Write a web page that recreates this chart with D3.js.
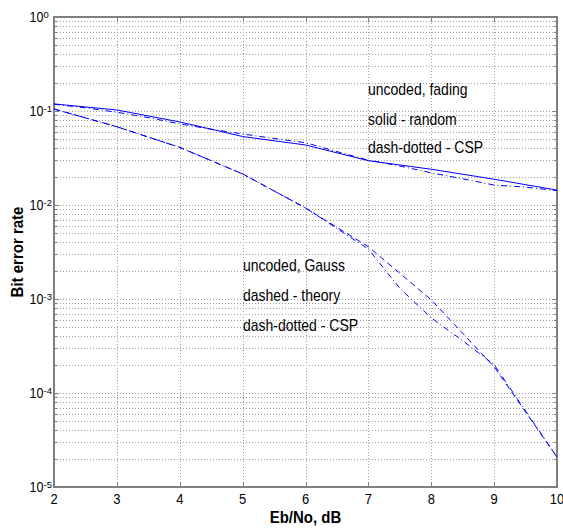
<!doctype html>
<html>
<head>
<meta charset="utf-8">
<script src="https://d3js.org/d3.v7.min.js"></script>
<style>
  body { margin: 0; background: #fff; }
  text { font-family: "Liberation Sans", Arial, sans-serif; fill: #000; }
</style>
</head>
<body>
<div id="chart"></div>
<script>
// x values (Eb/No, dB)
var ebno = [2, 3, 4, 5, 6, 7, 8, 9, 10];
var ebnoHalf = [2, 2.5, 3, 3.5, 4, 4.5, 5, 5.5, 6, 6.5, 7, 7.5, 8, 8.5, 9, 9.5, 10];

// uncoded, fading
var fadingRandom = [0.119, 0.1025, 0.0765, 0.0535, 0.0435, 0.0296, 0.024, 0.0188, 0.0144];
var fadingCSP = [0.118, 0.108, 0.097, 0.085, 0.073, 0.064, 0.057, 0.051, 0.046, 0.037, 0.030, 0.026, 0.022, 0.019, 0.0163, 0.0155, 0.0142];

// uncoded, Gauss
var gaussTheory = [0.105, 0.068, 0.041, 0.0214, 0.0093, 0.0036, 0.00098, 0.00019, 0.0000208];
var gaussCSPx = [2, 3, 4, 5, 6, 7, 7.5, 8, 8.5, 9, 10];
var gaussCSP = [0.105, 0.068, 0.041, 0.0214, 0.0093, 0.0034, 0.0013, 0.00063, 0.00036, 0.0002, 0.0000208];

var xTicks = [2, 3, 4, 5, 6, 7, 8, 9, 10];
var yDecades = [1, 1e-1, 1e-2, 1e-3, 1e-4, 1e-5];
var yExponents = ["0", "-1", "-2", "-3", "-4", "-5"];

var W = 563, H = 528;
var pLeft = 54, pRight = 557, pTop = 17, pBottom = 487;

var svg = d3.select("#chart").append("svg")
    .attr("width", W).attr("height", H);

var x = d3.scaleLinear().domain([2, 10]).range([pLeft, pRight]);
var y = d3.scaleLog().domain([1e-5, 1]).range([pBottom, pTop]);

// minor log values
var minors = [];
for (var e = -5; e < 0; e++) {
  for (var m = 1; m <= 9; m++) minors.push(m * Math.pow(10, e));
}
minors.push(1);

// grid
var grid = svg.append("g").attr("stroke", "#a0a0a0").attr("stroke-width", 1)
    .attr("stroke-dasharray", "1,2").attr("shape-rendering", "crispEdges");
grid.selectAll("line.h").data(minors).enter().append("line")
    .attr("x1", pLeft).attr("x2", pRight)
    .attr("y1", function(d) { return Math.round(y(d)) + 0.5; })
    .attr("y2", function(d) { return Math.round(y(d)) + 0.5; });
grid.selectAll("line.v").data(xTicks).enter().append("line")
    .attr("y1", pTop).attr("y2", pBottom)
    .attr("x1", function(d) { return Math.round(x(d)) + 0.5; })
    .attr("x2", function(d) { return Math.round(x(d)) + 0.5; });

// axes box + ticks
var ax = svg.append("g").attr("stroke", "#808080").attr("stroke-width", 1)
    .attr("shape-rendering", "crispEdges");
ax.append("rect").attr("x", pLeft).attr("y", pTop)
    .attr("width", pRight - pLeft).attr("height", pBottom - pTop)
    .attr("fill", "none").attr("stroke-width", 1.5);
minors.forEach(function(d) {
  var major = yDecades.indexOf(d) >= 0;
  var len = major ? 5 : 3;
  var yy = Math.round(y(d)) + 0.5;
  ax.append("line").attr("x1", pLeft).attr("x2", pLeft + len).attr("y1", yy).attr("y2", yy);
  ax.append("line").attr("x1", pRight - len).attr("x2", pRight).attr("y1", yy).attr("y2", yy);
});
xTicks.forEach(function(d) {
  var xx = Math.round(x(d)) + 0.5;
  ax.append("line").attr("x1", xx).attr("x2", xx).attr("y1", pBottom).attr("y2", pBottom - 5);
  ax.append("line").attr("x1", xx).attr("x2", xx).attr("y1", pTop).attr("y2", pTop + 5);
});

// tick labels
svg.selectAll("text.xt").data(xTicks).enter().append("text")
    .attr("transform", function(d) { return "translate(" + x(d) + ",504) scale(1,1.1)"; })
    .attr("text-anchor", "middle")
    .attr("font-size", 13)
    .text(function(d) { return d; });

svg.selectAll("text.yt").data(yDecades).enter().append("text")
    .attr("transform", function(d) { return "translate(43.5," + (y(d) + 5) + ") scale(1,1.1)"; })
    .attr("text-anchor", "end")
    .attr("font-size", 12.5)
    .text("10");
svg.selectAll("text.ye").data(yDecades).enter().append("text")
    .attr("x", 43.5)
    .attr("y", function(d) { return y(d) + 1; })
    .attr("font-size", 9.5)
    .text(function(d, i) { return yExponents[i]; });

// axis labels
svg.append("text")
    .attr("transform", "translate(23," + (pTop + pBottom) / 2 + ") rotate(-90) scale(1,1.1)")
    .attr("text-anchor", "middle")
    .attr("font-size", 15).attr("font-weight", "bold")
    .text("Bit error rate");
svg.append("text")
    .attr("transform", "translate(" + (pLeft + pRight) / 2 + ",523) scale(1,1.1)")
    .attr("text-anchor", "middle")
    .attr("font-size", 15).attr("font-weight", "bold")
    .text("Eb/No, dB");

// curves
var line = d3.line()
    .x(function(d) { return x(d[0]); })
    .y(function(d) { return y(d[1]); });
var curves = svg.append("g");
function curve(xs, ys, dash) {
  curves.append("path")
      .attr("d", line(d3.zip(xs, ys)))
      .attr("fill", "none")
      .attr("stroke", "#0000ff")
      .attr("stroke-width", 1)
      .attr("stroke-dasharray", dash);
}
curve(ebno, fadingRandom, null);
curve(ebnoHalf, fadingCSP, "6,3,1,3");
curve(ebno, gaussTheory, "6,4");
curve(gaussCSPx, gaussCSP, "6,3,1,3");

// annotations
var notes = [
  ["uncoded, fading", 368, 95],
  ["solid - random", 368, 125],
  ["dash-dotted - CSP", 368, 153],
  ["uncoded, Gauss", 243, 271],
  ["dashed - theory", 243, 301],
  ["dash-dotted - CSP", 243, 331]
];
svg.selectAll("text.note").data(notes).enter().append("text")
    .attr("transform", function(d) { return "translate(" + d[1] + "," + d[2] + ") scale(1,1.2)"; })
    .attr("font-size", 14)
    .text(function(d) { return d[0]; });
</script>
</body>
</html>
